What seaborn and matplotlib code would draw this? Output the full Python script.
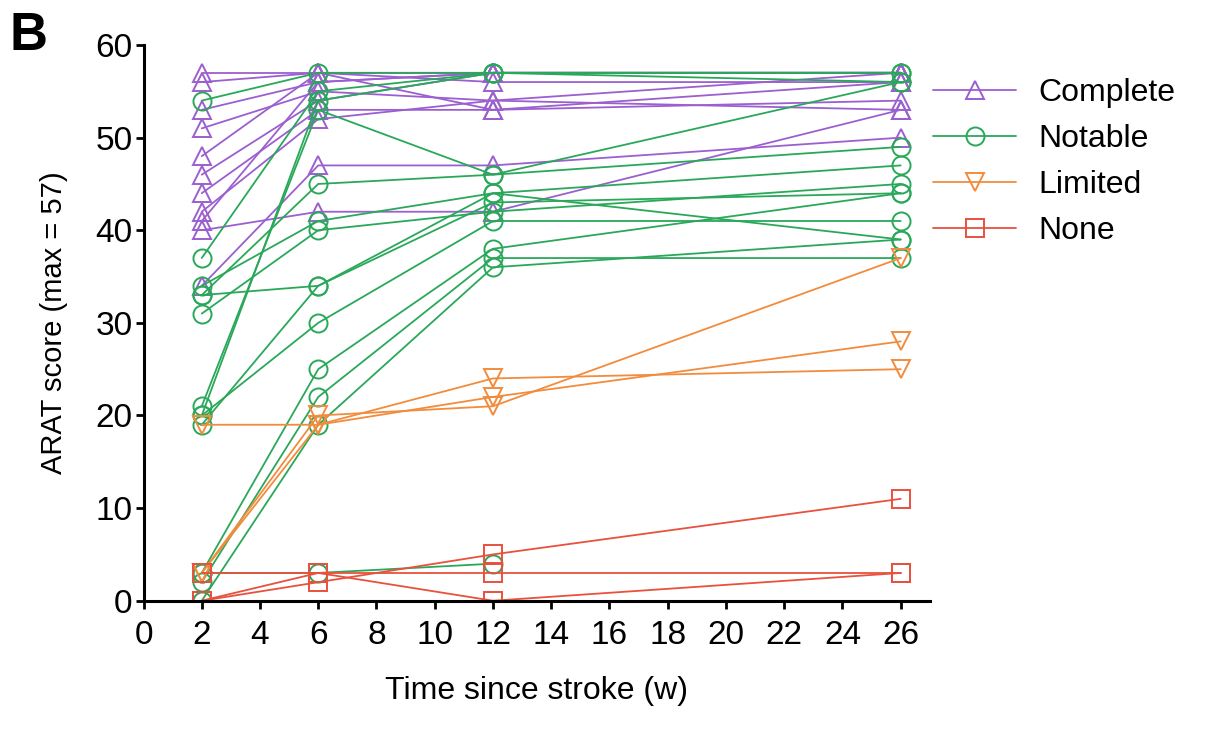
import matplotlib
matplotlib.use("Agg")
import matplotlib.pyplot as plt
from matplotlib.lines import Line2D
import seaborn as sns
import pandas as pd

weeks = [2, 6, 12, 26]
groups = ["Complete", "Notable", "Limited", "None"]

complete = [
    [57, 57, 57, 57],
    [56, 57, 56, 56],
    [53, 56, 57, 57],
    [51, 55, 54, 57],
    [48, 57, 53, 54],
    [46, 54, 57, 57],
    [44, 53, 53, 56],
    [42, 52, 54, 53],
    [41, 56, 57, 57],
    [40, 42, 42, 53],
    [34, 47, 47, 50],
]
notable = [
    [54, 57, 57, 57],
    [37, 55, 57, 56],
    [20, 54, 57, 57],
    [21, 53, 46, 56],
    [33, 45, 46, 49],
    [34, 41, 44, 47],
    [31, 40, 42, 45],
    [33, 34, 43, 44],
    [20, 30, 41, 41],
    [19, 34, 44, 39],
    [3, 25, 38, 44],
    [2, 22, 37, 37],
    [0, 19, 36, 39],
    [3, 3, 4, None],
]
limited = [
    [19, 19, 24, 25],
    [3, 20, 21, 37],
    [3, 19, 22, 28],
]
none_grp = [
    [3, 3, 3, 3],
    [0, 2, 5, 11],
    [0, 3, 0, 3],
]

colors = {"Complete": "#9b5fd0", "Notable": "#2aa85a", "Limited": "#f28c3c", "None": "#e9503e"}
markers = {"Complete": "^", "Notable": "o", "Limited": "v", "None": "s"}

rows = []
pid = 0
for g, data in zip(groups, [complete, notable, limited, none_grp]):
    for traj in data:
        pid += 1
        for w, v in zip(weeks, traj):
            if v is not None:
                rows.append({"patient": pid, "group": g, "week": w, "score": v})
df = pd.DataFrame(rows)

sns.set_style("ticks")
plt.rcParams["font.family"] = ["Liberation Sans", "DejaVu Sans"]
plt.rcParams["text.color"] = "black"
plt.rcParams["axes.labelcolor"] = "black"
plt.rcParams["xtick.color"] = "black"
plt.rcParams["ytick.color"] = "black"

fig = plt.figure(figsize=(12.06, 7.38), dpi=100)
ax = fig.add_axes([0.119, 0.186, 0.652, 0.753])

sns.lineplot(data=df, x="week", y="score", hue="group", style="group",
             units="patient", estimator=None, hue_order=groups, style_order=groups,
             palette=colors, markers=markers, dashes=False, sort=True,
             linewidth=1.3, markersize=13, legend=False, ax=ax)

for ln in ax.get_lines():
    ln.set_markerfacecolor("none")
    ln.set_markeredgecolor(ln.get_color())
    ln.set_markeredgewidth(1.4)

ax.set_xlim(0, 27)
ax.set_ylim(0, 60)
ax.set_xticks(range(0, 27, 2))
ax.set_yticks(range(0, 61, 10))
ax.tick_params(axis="both", labelsize=24, width=2, length=6, color="black", labelcolor="black")
ax.tick_params(axis="x", pad=8)
ax.tick_params(axis="y", pad=2)
for s in ["left", "bottom"]:
    ax.spines[s].set_linewidth(2.2)
    ax.spines[s].set_color("black")
sns.despine(ax=ax)

ax.set_xlabel("Time since stroke (w)", fontsize=23, labelpad=18)
ax.set_ylabel("ARAT score (max = 57)", fontsize=21, labelpad=20)

handles = [Line2D([0], [0], color=colors[g], marker=markers[g], markersize=13,
                  markerfacecolor="none", markeredgecolor=colors[g], markeredgewidth=1.4,
                  linewidth=1.3) for g in groups]
ax.legend(handles, groups, loc="upper left", bbox_to_anchor=(0.988, 0.963), frameon=False,
          borderaxespad=0, fontsize=23, handlelength=2.6, handletextpad=0.7,
          labelspacing=0.5)

fig.text(0.008, 0.985, "B", fontsize=38, fontweight="bold", va="top", ha="left")

fig.savefig("out.png", dpi=100, facecolor="white")
